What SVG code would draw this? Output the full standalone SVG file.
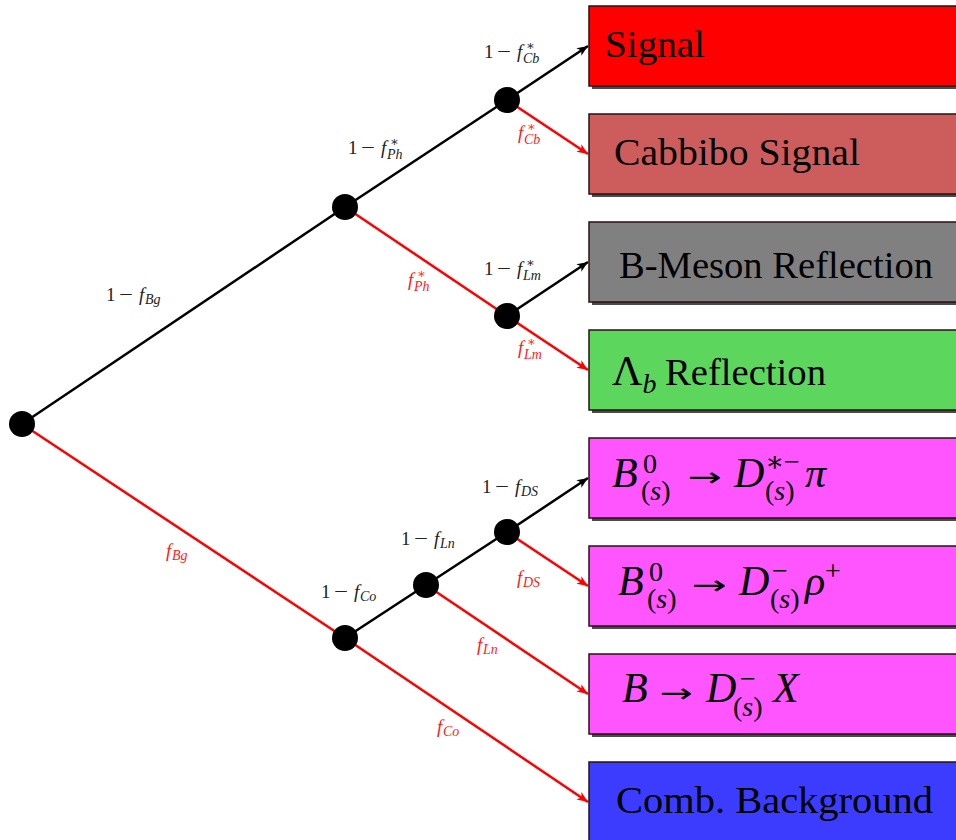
<svg xmlns="http://www.w3.org/2000/svg" width="956" height="840" viewBox="0 0 956 840">
<style>
.ln{stroke-width:2.5;fill:none}
.k{stroke:#000}
.r{stroke:#ff0000}
.node{fill:#000}
.sh{fill:#4a4a4a}
.box{stroke:#2a1010;stroke-width:1.5}
.bt{font-family:"Liberation Serif","DejaVu Serif",serif;font-size:38px;fill:#000}
.mt{font-family:"Liberation Serif","DejaVu Serif",serif;font-size:42px;fill:#000}
.ar{font-family:"DejaVu Sans","Liberation Sans",sans-serif;font-size:26px;fill:#000}
.ms{font-size:28px}
.lb{font-family:"Liberation Serif","DejaVu Serif",serif;font-size:19px;fill:#222}
.lr{fill:#ff1a1a}
.i{font-style:italic}
.sm{font-size:14px}
.st{font-size:13px}
</style>
<defs>
<marker id="ak" markerUnits="userSpaceOnUse" markerWidth="12" markerHeight="10" refX="11" refY="4.5" orient="auto">
<path d="M0,0 L11,4.5 L0,9 L3,4.5 z" fill="#000"/>
</marker>
<marker id="ar" markerUnits="userSpaceOnUse" markerWidth="12" markerHeight="10" refX="11" refY="4.5" orient="auto">
<path d="M0,0 L11,4.5 L0,9 L3,4.5 z" fill="#ff0000"/>
</marker>
</defs>

<g id="connectors">
<line class="ln k" x1="22" y1="424" x2="345" y2="207"/>
<line class="ln r" x1="22" y1="424" x2="345" y2="638"/>
<line class="ln k" x1="345" y1="207" x2="507" y2="100"/>
<line class="ln r" x1="345" y1="207" x2="507" y2="316"/>
<line class="ln k" x1="507" y1="100" x2="588" y2="46" marker-end="url(#ak)"/>
<line class="ln r" x1="507" y1="100" x2="588" y2="154" marker-end="url(#ar)"/>
<line class="ln k" x1="507" y1="316" x2="588" y2="262" marker-end="url(#ak)"/>
<line class="ln r" x1="507" y1="316" x2="588" y2="370" marker-end="url(#ar)"/>
<line class="ln k" x1="345" y1="638" x2="426" y2="585"/>
<line class="ln k" x1="426" y1="585" x2="507" y2="532"/>
<line class="ln k" x1="507" y1="532" x2="588" y2="478" marker-end="url(#ak)"/>
<line class="ln r" x1="507" y1="532" x2="588" y2="586" marker-end="url(#ar)"/>
<line class="ln r" x1="426" y1="585" x2="588" y2="694" marker-end="url(#ar)"/>
<line class="ln r" x1="345" y1="638" x2="588" y2="802" marker-end="url(#ar)"/>
</g>

<g id="edge-labels">
<text class="lb" x="106" y="301">1<tspan x="119" textLength="14" lengthAdjust="spacingAndGlyphs">−</tspan><tspan class="i" x="139">f</tspan><tspan class="i sm" x="145" dy="3">Bg</tspan></text>
<text class="lb lr" x="166" y="557"><tspan class="i">f</tspan><tspan class="i sm" x="172" dy="3">Bg</tspan></text>

<text class="lb" x="348" y="154">1<tspan x="361" textLength="14" lengthAdjust="spacingAndGlyphs">−</tspan><tspan class="i" x="381">f</tspan><tspan class="i sm" x="387" dy="5">Ph</tspan></text>
<text class="lb st" x="390" y="146">∗</text>
<text class="lb lr" x="408" y="286"><tspan class="i">f</tspan><tspan class="i sm" x="414" dy="5">Ph</tspan></text>
<text class="lb lr st" x="417" y="278">∗</text>

<text class="lb" x="484" y="58">1<tspan x="497" textLength="14" lengthAdjust="spacingAndGlyphs">−</tspan><tspan class="i" x="517">f</tspan><tspan class="i sm" x="523" dy="5">Cb</tspan></text>
<text class="lb st" x="526" y="50">∗</text>
<text class="lb lr" x="518" y="139"><tspan class="i">f</tspan><tspan class="i sm" x="524" dy="5">Cb</tspan></text>
<text class="lb lr st" x="527" y="131">∗</text>

<text class="lb" x="484" y="275">1<tspan x="497" textLength="14" lengthAdjust="spacingAndGlyphs">−</tspan><tspan class="i" x="517">f</tspan><tspan class="i sm" x="523" dy="5">Lm</tspan></text>
<text class="lb st" x="526" y="267">∗</text>
<text class="lb lr" x="518" y="354"><tspan class="i">f</tspan><tspan class="i sm" x="524" dy="5">Lm</tspan></text>
<text class="lb lr st" x="527" y="346">∗</text>

<text class="lb" x="482" y="493">1<tspan x="495" textLength="14" lengthAdjust="spacingAndGlyphs">−</tspan><tspan class="i" x="515">f</tspan><tspan class="i sm" x="521" dy="3">DS</tspan></text>
<text class="lb lr" x="517" y="584"><tspan class="i">f</tspan><tspan class="i sm" x="523" dy="3">DS</tspan></text>

<text class="lb" x="401" y="545">1<tspan x="414" textLength="14" lengthAdjust="spacingAndGlyphs">−</tspan><tspan class="i" x="434">f</tspan><tspan class="i sm" x="440" dy="3">Ln</tspan></text>
<text class="lb lr" x="477" y="651"><tspan class="i">f</tspan><tspan class="i sm" x="483" dy="3">Ln</tspan></text>

<text class="lb" x="321" y="598">1<tspan x="334" textLength="14" lengthAdjust="spacingAndGlyphs">−</tspan><tspan class="i" x="354">f</tspan><tspan class="i sm" x="360" dy="3">Co</tspan></text>
<text class="lb lr" x="437" y="733"><tspan class="i">f</tspan><tspan class="i sm" x="443" dy="3">Co</tspan></text>
</g>

<g id="n-root"><circle class="node" cx="22" cy="424" r="13"/></g>
<g id="n-A"><circle class="node" cx="345" cy="207" r="13"/></g>
<g id="n-B"><circle class="node" cx="507" cy="100" r="13"/></g>
<g id="n-C"><circle class="node" cx="507" cy="316" r="13"/></g>
<g id="n-D"><circle class="node" cx="345" cy="638" r="13"/></g>
<g id="n-E"><circle class="node" cx="426" cy="585" r="13"/></g>
<g id="n-F"><circle class="node" cx="507" cy="532" r="13"/></g>

<g id="box-signal">
<rect class="sh" x="592" y="9" width="380" height="80"/>
<rect class="box" x="589" y="6" width="380" height="80" fill="#ff0000"/>
<text class="bt" x="605" y="57" textLength="100" lengthAdjust="spacingAndGlyphs">Signal</text>
</g>
<g id="box-cabbibo">
<rect class="sh" x="592" y="117" width="380" height="80"/>
<rect class="box" x="589" y="114" width="380" height="80" fill="#cd5c5c"/>
<text class="bt" x="614" y="165" textLength="246" lengthAdjust="spacingAndGlyphs">Cabbibo Signal</text>
</g>
<g id="box-bmeson">
<rect class="sh" x="592" y="225" width="380" height="80"/>
<rect class="box" x="589" y="222" width="380" height="80" fill="#808080"/>
<text class="bt" x="619" y="278" textLength="314" lengthAdjust="spacingAndGlyphs">B-Meson Reflection</text>
</g>
<g id="box-lambdab">
<rect class="sh" x="592" y="333" width="380" height="80"/>
<rect class="box" x="589" y="330" width="380" height="80" fill="#5cd65c"/>
<text class="mt" x="612" y="385">Λ<tspan class="i ms" dy="8">b</tspan></text>
<text class="bt" x="665" y="385" textLength="161" lengthAdjust="spacingAndGlyphs">Reflection</text>
</g>
<g id="box-dstarpi">
<rect class="sh" x="592" y="441" width="380" height="80"/>
<rect class="box" x="589" y="438" width="380" height="80" fill="#ff55ff"/>
<text class="mt i" x="612" y="487">B</text>
<text class="mt ms" x="643" y="473">0</text>
<text class="mt ms" x="641" y="500">(<tspan class="i">s</tspan>)</text>
<text class="ar" x="688" y="486" textLength="34" lengthAdjust="spacingAndGlyphs">→</text>
<text class="mt i" x="734" y="487">D</text>
<text class="mt ms" x="765" y="471">∗−</text>
<text class="mt ms" x="765" y="500">(<tspan class="i">s</tspan>)</text>
<text class="mt i" x="805" y="487">π</text>
</g>
<g id="box-drho">
<rect class="sh" x="592" y="549" width="380" height="80"/>
<rect class="box" x="589" y="546" width="380" height="80" fill="#ff55ff"/>
<text class="mt i" x="618" y="595">B</text>
<text class="mt ms" x="649" y="581">0</text>
<text class="mt ms" x="647" y="608">(<tspan class="i">s</tspan>)</text>
<text class="ar" x="692" y="594" textLength="35" lengthAdjust="spacingAndGlyphs">→</text>
<text class="mt i" x="739" y="595">D</text>
<text class="mt ms" x="772" y="580">−</text>
<text class="mt ms" x="770" y="608">(<tspan class="i">s</tspan>)</text>
<text class="mt i" x="805" y="595">ρ</text>
<text class="mt ms" x="825" y="580">+</text>
</g>
<g id="box-dx">
<rect class="sh" x="592" y="657" width="380" height="80"/>
<rect class="box" x="589" y="654" width="380" height="80" fill="#ff55ff"/>
<text class="mt i" x="622" y="702">B</text>
<text class="ar" x="660" y="702" textLength="33" lengthAdjust="spacingAndGlyphs">→</text>
<text class="mt i" x="706" y="702">D</text>
<text class="mt ms" x="740" y="688">−</text>
<text class="mt ms" x="733" y="716">(<tspan class="i">s</tspan>)</text>
<text class="mt i" x="773" y="702">X</text>
</g>
<g id="box-comb">
<rect class="sh" x="592" y="765" width="380" height="80"/>
<rect class="box" x="589" y="762" width="380" height="80" fill="#3c3cff"/>
<text class="bt" x="616" y="813" textLength="317" lengthAdjust="spacingAndGlyphs">Comb. Background</text>
</g>
</svg>
